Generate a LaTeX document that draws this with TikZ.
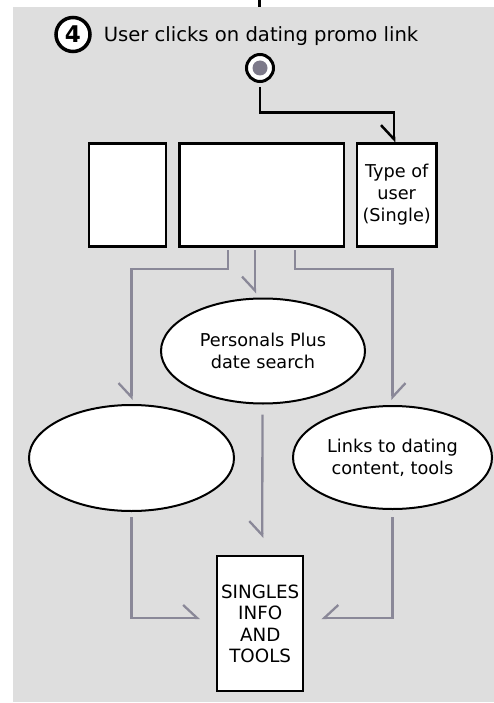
\documentclass[tikz,border=0pt]{standalone}
\usepackage{fontspec}
\setmainfont{DejaVu Sans}
\usetikzlibrary{arrows.meta,shapes.geometric,calc}
\definecolor{bgc}{RGB}{222,222,222}
\definecolor{lnc}{RGB}{138,136,152}
\definecolor{discc}{RGB}{125,122,138}
\tikzset{
  boxn/.style={draw=black, line width=2.3pt, fill=white, rectangle, inner sep=0pt},
  ovaln/.style={draw=black, line width=2pt, fill=white, ellipse, inner sep=0pt},
  body/.style={font=\fontsize{17.7}{22}\selectfont, align=center, text=black},
  glink/.style={draw=lnc, line width=2.3pt},
  blink/.style={draw=black, line width=2.5pt},
  tipL/.style={-{Straight Barb[harpoon, length=14pt, width=26pt]}},
  tipR/.style={-{Straight Barb[harpoon, swap, length=14pt, width=26pt]}},
}
\begin{document}
\begin{tikzpicture}[x=1pt, y=-1pt]
\useasboundingbox (0,0) rectangle (494,703);
\fill[bgc] (13,7) rectangle (494,702);
% top entry line
\coordinate (topin) at (259.5,0);
\coordinate (topout) at (259.5,7);
\draw[blink] (topin) -- (topout);
% header
\node[circle, draw=black, line width=3.5pt, fill=white, minimum size=34pt, inner sep=0pt,
      font=\fontsize{23}{23}\selectfont\bfseries] (num) at (73,34.5) {4};
\node[anchor=base, font=\fontsize{19.6}{22}\selectfont] (title) at (261,41.5) {User clicks on dating promo link};
% start circle
\node[circle, draw=black, line width=3pt, fill=white, minimum size=27pt, inner sep=0pt] (start) at (260,68) {};
\fill[discc] (start.center) circle (7.5);
% boxes
\node[boxn, minimum width=77pt, minimum height=103pt] (box1) at (127.7,195) {};
\node[boxn, minimum width=164.7pt, minimum height=103pt] (box2) at (261.7,195) {};
\node[boxn, minimum width=79.3pt, minimum height=103pt, body] (box3) at (396.7,195)
  {Type of\\user\\(Single)};
% ellipses
\node[ovaln, minimum width=204pt, minimum height=105pt, body] (pers) at (263,351)
  {Personals Plus\\date search};
\node[ovaln, minimum width=205pt, minimum height=106pt] (left) at (131.5,458) {};
\node[ovaln, minimum width=199pt, minimum height=103pt, body] (links) at (392.5,457.5)
  {Links to dating\\content, tools};
% singles
\node[boxn, minimum width=86pt, minimum height=135pt, body, font=\fontsize{18.3}{21.5}\selectfont] (singles) at (260.2,623.7)
  {SINGLES\\INFO\\AND\\TOOLS};
% black connector
\draw[blink, tipR, shorten <=4pt] (start.south) |- ($(box3.north)+(-2.7,-30)$) -- ([xshift=-2.7pt]box3.north);
% gray connectors
\draw[glink, tipR, shorten <=2.5pt, shorten >=4pt] ([xshift=-33.5pt]box2.south) -- ++(0,21.5) -| (left.north);
\draw[glink, tipR, shorten <=2.5pt, shorten >=4pt] ([xshift=-6.7pt]box2.south) -- ([xshift=-6.7pt]box2.south |- pers.north);
\draw[glink, tipL, shorten <=2.5pt, shorten >=5pt] ([xshift=33.3pt]box2.south) -- ++(0,21.5) -| (links.north);
\draw[glink, tipR, shorten <=10pt, shorten >=17pt] ([xshift=-0.5pt]pers.south) -- ([xshift=2pt]singles.north);
\draw[glink, tipL, shorten <=5pt, shorten >=16pt] (left.south) |- ([yshift=5.7pt]singles.west);
\draw[glink, tipR, shorten <=7pt, shorten >=17pt] (links.south) |- ([yshift=5.7pt]singles.east);
\end{tikzpicture}
\end{document}
